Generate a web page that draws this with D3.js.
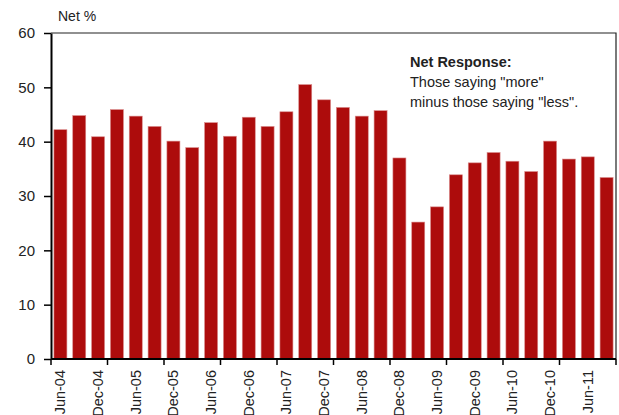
<!DOCTYPE html>
<html>
<head>
<meta charset="utf-8">
<script src="https://cdn.jsdelivr.net/npm/d3@7"></script>
<style>
  body { margin: 0; background: #fff; }
  svg text { font-family: "Liberation Sans", Arial, sans-serif; fill: #222; }
</style>
</head>
<body>
<svg width="619" height="415"></svg>
<script>
// quarterly survey, net % saying "more" minus "less"
const quarters = [
  "Jun-04", "Sep-04", "Dec-04", "Mar-05", "Jun-05", "Sep-05", "Dec-05", "Mar-06",
  "Jun-06", "Sep-06", "Dec-06", "Mar-07", "Jun-07", "Sep-07", "Dec-07", "Mar-08",
  "Jun-08", "Sep-08", "Dec-08", "Mar-09", "Jun-09", "Sep-09", "Dec-09", "Mar-10",
  "Jun-10", "Sep-10", "Dec-10", "Mar-11", "Jun-11", "Sep-11"
];
const netValues = [
  42.2, 44.8, 40.9, 45.9, 44.7, 42.8, 40.1, 38.9,
  43.5, 41.0, 44.5, 42.8, 45.5, 50.5, 47.7, 46.3,
  44.7, 45.7, 37.0, 25.2, 28.0, 33.9, 36.1, 38.0,
  36.4, 34.5, 40.1, 36.8, 37.2, 33.4
];
const yTicks = [0, 10, 20, 30, 40, 50, 60];
const labelEvery = 2;
const tickEvery = 3;

const svg = d3.select("svg");
const plotLeft = 51, plotRight = 616, plotTop = 33, plotBottom = 359;

const x = d3.scaleBand()
  .domain(quarters)
  .range([plotLeft, plotRight])
  .paddingInner(0.31)
  .paddingOuter(0.155);

const y = d3.scaleLinear().domain([0, 60]).range([plotBottom, plotTop]);

// bars
svg.append("g")
  .selectAll("rect")
  .data(netValues)
  .enter().append("rect")
    .attr("x", (d, i) => x(quarters[i]))
    .attr("y", d => y(d))
    .attr("width", x.bandwidth())
    .attr("height", d => plotBottom - y(d))
    .attr("fill", "#ad0c0c")
    .attr("stroke", "#d98a8a")
    .attr("stroke-width", 0.6);

// frame (top + right)
svg.append("path")
  .attr("d", `M${plotLeft},${plotTop}H${plotRight}V${plotBottom}`)
  .attr("fill", "none")
  .attr("stroke", "#222")
  .attr("stroke-width", 1.2);

// y axis
const yAxis = svg.append("g")
  .attr("transform", `translate(${plotLeft},0)`)
  .call(d3.axisLeft(y).tickValues(yTicks).tickSize(7).tickPadding(9).tickSizeOuter(0));
yAxis.select(".domain").attr("stroke", "#000").attr("stroke-width", 2);
yAxis.selectAll(".tick line").attr("stroke", "#000").attr("stroke-width", 1.5);
yAxis.selectAll("text").attr("font-size", 15).style("font-family", "Liberation Sans, Arial, sans-serif").attr("fill", "#222");

// x axis labels (every 2nd quarter)
const xAxis = svg.append("g")
  .attr("transform", `translate(0,${plotBottom})`)
  .call(d3.axisBottom(x)
    .tickValues(quarters.filter((q, i) => i % labelEvery === 0))
    .tickSize(0));
xAxis.select(".domain").remove();
xAxis.selectAll("text")
  .attr("font-size", 14.5)
  .style("font-family", "Liberation Sans, Arial, sans-serif")
  .attr("fill", "#222")
  .attr("text-anchor", "end")
  .attr("transform", "rotate(-90)")
  .attr("x", -11)
  .attr("y", 0)
  .attr("dy", "0.35em");

// x axis line + ticks at group boundaries
svg.append("line")
  .attr("x1", plotLeft).attr("x2", plotRight)
  .attr("y1", plotBottom).attr("y2", plotBottom)
  .attr("stroke", "#000").attr("stroke-width", 2);
const bounds = d3.range(0, quarters.length + 1, tickEvery);
svg.append("g")
  .selectAll("line")
  .data(bounds)
  .enter().append("line")
    .attr("x1", i => plotLeft + i * x.step())
    .attr("x2", i => plotLeft + i * x.step())
    .attr("y1", plotBottom)
    .attr("y2", plotBottom + 6)
    .attr("stroke", "#000")
    .attr("stroke-width", 1.5);

// unit label
svg.append("text")
  .attr("x", 58).attr("y", 21)
  .attr("font-size", 14)
  .text("Net %");

// annotation
const note = svg.append("text").attr("x", 410).attr("font-size", 14.5);
note.append("tspan").attr("x", 410).attr("y", 67).attr("font-weight", "bold").text("Net Response:");
note.append("tspan").attr("x", 410).attr("y", 87).text('Those saying "more"');
note.append("tspan").attr("x", 410).attr("y", 107).text('minus those saying "less".');
</script>
</body>
</html>
